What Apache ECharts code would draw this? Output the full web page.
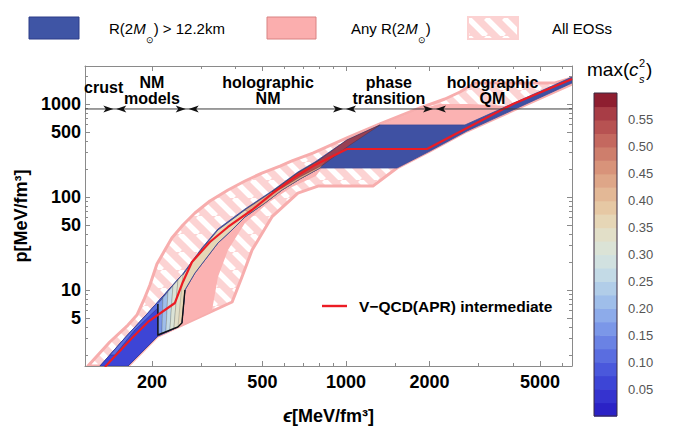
<!DOCTYPE html>
<html>
<head>
<meta charset="utf-8">
<script src="https://cdn.jsdelivr.net/npm/echarts@6.0.0/dist/echarts.min.js"></script>
<style>
html,body{margin:0;padding:0;background:#ffffff;}
#chart{width:680px;height:433px;}
</style>
</head>
<body>
<div id="chart"></div>
<script>
// ---------------- data ----------------
const xRange = [114.8, 6522];           // energy density axis range, MeV/fm^3
const yRange = [1.523, 2562];           // pressure axis range, MeV/fm^3
const xTickLabels = [200, 500, 1000, 2000, 5000];
const xMinorTicks = [300, 400, 600, 700, 800, 900, 1500, 3000, 4000, 6000];
const yTickLabels = [5, 10, 50, 100, 500, 1000];
const yMinorTicks = [2, 3, 4, 6, 7, 8, 9, 20, 30, 40, 60, 70, 80, 90, 200, 300, 400, 600, 700, 800, 900, 2000];

// [epsilon, p] boundaries of the regions
const allEosRegion = [
  [117.6,1.52],[141,2.76],[164,4.2],[176.6,5.38],[187,7.81],[196.7,11.3],[208.5,19],[222.8,26.9],
  [236,36.2],[258.7,50],[285.7,67.3],[323.6,90.6],[376,118.9],[432.7,148.6],[498,181],[578.5,215],
  [639,244],[760,297],[1008,431],[1326,610],[1848,906],[2273,1132],[2575,1346],[2916,1682],
  [5663,1682],[6522,1904],[6522,1641],[2729,512],[2008,312],[1527,205],[1251,131],[793,131],
  [671,110],[541,61],[459,26.9],[422,13.8],[389,7.43],[210,3.2],[164,1.52]
];
const anyRadiusRegion = [
  [210.2,3.2],[329,5.95],[345.8,13.8],[375.9,26.9],[432.7,52.5],[523.7,86.2],[638.8,128.1],
  [779.7,168.2],[819.5,205],[1565,215.4],[2729,538.6],[3834,951.7],[2798,1000],[2181,1000],
  [1848,883.6],[1326,594.8],[1008,405],[773.2,234],[671.4,183],[541.4,114],[432.7,73],
  [345.8,44.5],[302.8,28],[256.5,14.3],[222.8,9.0],[210.2,6.6]
];
const radiusAbove122Region = [
  [129.9,1.52],[159.8,3.05],[193.5,5.66],[222.8,9.06],[256.5,14.5],[302.8,28.3],[345.8,45.3],
  [432.7,74.3],[541.4,116],[671.4,185.7],[773.2,237.9],[1008,410.2],[1326,594.8],[2684,594.8],
  [6522,1951],[6522,1682],[2729,512.5],[2008,312.4],[1527,205],[806,205],[682.6,156.2],
  [588.2,118.9],[510.9,86.2],[432.7,61],[388.6,44.2],[345.8,32],[310.4,21],[285.7,15.2],
  [263,10],[256.5,4.42],[248.2,4.0],[210.2,3.2],[163.9,1.52]
];
// c_s^2-coloured sub-regions
const cs2Wedge = [[129.9,1.52],[159.8,3.05],[193.5,5.66],[222.8,9.06],[256.5,14.5],[263,10],[256.5,4.42],[248.2,4.0],[210.2,3.2],[163.9,1.52]];
const cs2WedgeInner = [[141.2,2.0],[159.8,3.05],[193.5,5.66],[222.8,9.06],[256.5,14.5],[256.5,10],[213.7,6.73],[173.7,3.71],[147.1,2.0]];
const cs2Band = [
  [210.2,3.28],[210.2,7.07],[222.8,8.84],[242.1,11.9],[256.5,14.1],[302.8,27.6],[345.8,44.2],
  [432.7,72.5],[541.4,113.2],[671.4,181.2],[773.2,232.1],[875.8,276],[806,205],[682.6,156.2],
  [588.2,118.9],[510.9,86.2],[432.7,61],[388.6,44.2],[345.8,32],[310.4,21],[285.7,15.2],
  [263,10],[256.5,4.42],[248.2,4.0]
];
const cs2BandMid = [[432.7,72.5],[541.4,113.2],[671.4,181.2],[773.2,232.1],[875.8,276],[806,205],[682.6,156.2],[588.2,118.9],[510.9,86.2],[451,67.3]];
const cs2BandTop = [[541.4,113.2],[671.4,181.2],[773.2,232.1],[1008,410.2],[1326,594.8],[1034,362.4],[826.3,220.9],[682.6,164.1],[588.2,125]];
const cs2FanBottom = [[210.2,3.28],[217.3,3.45],[224.6,3.53],[232.2,3.71],[240.1,3.90],[248.2,4.00]];
const cs2FanTop = [[210.2,7.07],[219.1,8.20],[228.4,9.52],[238.1,11.04],[248.2,12.8],[258.7,14.9]];
const cs2FanValues = [0.16, 0.21, 0.26, 0.31, 0.34];
const cs2RegionValues = {wedge: 0.06, wedgeInner: 0.11, band: 0.36, bandMid: 0.44, bandTop: 0.56};
const cs2Outline = [[210.2,7.07],[210.2,3.28],[248.2,4.0],[256.5,4.42],[263,10]];

// V-QCD(APR) intermediate
const vqcdCurve = [
  [135.4,1.49],[169.5,3.05],[193.5,4.53],[242,7.25],[258.6,12.2],[278.8,20],[323.6,32.8],
  [375.8,47.6],[458.5,72.5],[541,108],[655,164],[760.6,215],[1009,328],[1959,328],
  [2730,552],[4000,1000],[6526,1856]
];

// region annotations
const regionLineP = 884;
const regionBounds = [147, 268, 988, 2084];
const regionLabels = ['crust', 'NM\nmodels', 'holographic\nNM', 'phase\ntransition', 'holographic\nQM'];
const regionLabelEps = [134, 200, 524, 1428, 3373];

// colour bar for max(c_s^2)
const cs2Step = 0.025;
const cs2Colors = ['#2b22c6','#3533cf','#3d45d6','#4a58dc','#5a6de0','#6a82e4','#7b97e8','#8dabea',
  '#9fbeea','#b1cde8','#c3dae6','#d1e1e0','#dbe3d6','#e2dfc8','#e6d6b6','#e6c8a4','#e3b896',
  '#dea688','#d8937a','#ce7e6c','#c4685f','#b75252','#a83d46','#8e1e30'];
const cs2Ticks = [0.05,0.10,0.15,0.20,0.25,0.30,0.35,0.40,0.45,0.50,0.55];

// ---------------- chart ----------------
const F = '"Liberation Sans", Arial, Helvetica, sans-serif';
const lg = Math.log10;
const xMin = lg(xRange[0]), xMax = lg(xRange[1]), yMin = lg(yRange[0]), yMax = lg(yRange[1]);
const frame = '#8a8a8a';
const cs2Color = v => cs2Colors[Math.min(cs2Colors.length - 1, Math.floor(v / cs2Step))];

function hatchCanvas() {
  const s = 18, c = document.createElement('canvas');
  c.width = s; c.height = s;
  const g = c.getContext('2d');
  g.fillStyle = '#fcd3d3'; g.fillRect(0, 0, s, s);
  g.strokeStyle = '#ffffff'; g.lineWidth = 5.5;
  for (const o of [-s, 0, s]) { g.beginPath(); g.moveTo(o, 0); g.lineTo(o + s, s); g.stroke(); }
  return c;
}
const hatch = {image: hatchCanvas(), repeat: 'repeat', imageWidth: 18, imageHeight: 18};

const toPx = (api, arr) => arr.map(([e, p]) => api.coord([lg(e), lg(p)]));
function polySeries(arr, style, z) {
  return {type: 'custom', xAxisIndex: 0, yAxisIndex: 0, z, silent: true, clip: true,
    data: [[lg(300), lg(10)]],
    renderItem: (params, api) => ({type: 'polygon', shape: {points: toPx(api, arr)}, style})};
}

function mkX(position, ticks, len, showLine, showLabel) {
  return {gridIndex: 0, type: 'value', position, min: xMin, max: xMax,
    axisLine: {show: showLine, onZero: false, lineStyle: {color: frame, width: 1}},
    axisTick: {show: true, inside: true, length: len, customValues: ticks.map(lg), lineStyle: {color: frame, width: 1}},
    axisLabel: showLabel ? {show: true, customValues: ticks.map(lg),
      formatter: v => String(Math.round(Math.pow(10, v))), color: '#000', fontFamily: F,
      fontWeight: 'bold', fontSize: 18, margin: 7} : {show: false},
    splitLine: {show: false}};
}
function mkY(position, ticks, len, showLine, showLabel) {
  return {gridIndex: 0, type: 'value', position, min: yMin, max: yMax,
    axisLine: {show: showLine, onZero: false, lineStyle: {color: frame, width: 1}},
    axisTick: {show: true, inside: true, length: len, customValues: ticks.map(lg), lineStyle: {color: frame, width: 1}},
    axisLabel: showLabel ? {show: true, customValues: ticks.map(lg),
      formatter: v => String(Math.round(Math.pow(10, v))), color: '#000', fontFamily: F,
      fontWeight: 'bold', fontSize: 18, margin: 4} : {show: false},
    splitLine: {show: false}};
}

const xAxes = [
  Object.assign(mkX('bottom', xTickLabels, 5, true, true), {
    name: '{e|ϵ}[MeV/fm³]', nameLocation: 'middle', nameGap: 40,
    nameTextStyle: {color: '#000', fontFamily: F, fontWeight: 'bold', fontSize: 18,
      rich: {e: {fontFamily: F, fontWeight: 'bold', fontStyle: 'italic', fontSize: 19, color: '#000'}}}}),
  mkX('bottom', xMinorTicks, 3, false, false),
  mkX('top', xTickLabels, 5, true, false),
  mkX('top', xMinorTicks, 3, false, false),
  {gridIndex: 1, type: 'value', min: 0, max: 1, show: false}
];
const yAxes = [
  Object.assign(mkY('left', yTickLabels, 5, true, true), {
    name: 'p[MeV/fm³]', nameLocation: 'middle', nameGap: 52, nameRotate: 90,
    nameTextStyle: {color: '#000', fontFamily: F, fontWeight: 'bold', fontSize: 18}}),
  mkY('left', yMinorTicks, 3, false, false),
  mkY('right', yTickLabels, 5, true, false),
  mkY('right', yMinorTicks, 3, false, false),
  {gridIndex: 1, type: 'value', min: 0, max: 0.6, position: 'right',
    axisLine: {show: false}, splitLine: {show: false},
    axisTick: {show: true, inside: false, length: 6, customValues: cs2Ticks, lineStyle: {color: '#555'}},
    axisLabel: {show: true, customValues: cs2Ticks, formatter: v => v.toFixed(2), color: '#555',
      fontFamily: F, fontSize: 13, margin: 11}}
];

const series = [
  polySeries(allEosRegion, {fill: hatch, stroke: '#f7adad', lineWidth: 3, lineJoin: 'round'}, 1),
  polySeries(anyRadiusRegion, {fill: '#fbb2b2', stroke: 'none'}, 2),
  polySeries(radiusAbove122Region, {fill: '#3f51a3', stroke: '#3a4a98', lineWidth: 0.8}, 3),
  polySeries(cs2Wedge, {fill: cs2Color(cs2RegionValues.wedge), stroke: '#2a2f80', lineWidth: 0.5}, 4),
  polySeries(cs2WedgeInner, {fill: cs2Color(cs2RegionValues.wedgeInner), stroke: '#2a2f80', lineWidth: 0.5}, 5),
  polySeries(cs2Band, {fill: cs2Color(cs2RegionValues.band), stroke: '#34408c', lineWidth: 0.8}, 5),
  polySeries(cs2BandMid, {fill: cs2Color(cs2RegionValues.bandMid), stroke: 'rgba(60,40,40,0.6)', lineWidth: 0.5, opacity: 0.85}, 6),
  polySeries(cs2BandTop, {fill: cs2Color(cs2RegionValues.bandTop), stroke: 'rgba(60,30,30,0.7)', lineWidth: 0.5, opacity: 0.85}, 7),
  {type: 'custom', xAxisIndex: 0, yAxisIndex: 0, z: 6, silent: true, clip: true,
    data: cs2FanValues.map((v, i) => [lg(300), lg(10), i]),
    renderItem: (params, api) => {
      const i = api.value(2);
      const pts = toPx(api, [cs2FanBottom[i], cs2FanBottom[i + 1], cs2FanTop[i + 1], cs2FanTop[i]]);
      return {type: 'polygon', shape: {points: pts},
        style: {fill: cs2Color(cs2FanValues[i]), stroke: 'rgba(40,50,60,0.5)', lineWidth: 0.4}};
    }},
  {type: 'custom', xAxisIndex: 0, yAxisIndex: 0, z: 8, silent: true, clip: true,
    data: [[lg(300), lg(10)]],
    renderItem: (params, api) => ({type: 'polyline', shape: {points: toPx(api, cs2Outline)},
      style: {stroke: '#111', lineWidth: 1.4, fill: 'none'}})},
  {type: 'line', xAxisIndex: 0, yAxisIndex: 0, z: 10, silent: true, clip: true,
    symbol: 'none', data: vqcdCurve.map(([e, p]) => [lg(e), lg(p)]),
    lineStyle: {color: '#ec1c24', width: 2.2}},
  {type: 'custom', xAxisIndex: 0, yAxisIndex: 0, z: 11, silent: true, clip: false,
    data: [[lg(300), lg(10)]],
    renderItem: (params, api) => {
      const yL = api.coord([xMin, lg(regionLineP)])[1];
      const x0 = api.coord([xMin, 0])[0], x1 = api.coord([xMax, 0])[0];
      const kids = [{type: 'line', shape: {x1: x0, y1: yL, x2: x1, y2: yL}, style: {stroke: '#3c3c3c', lineWidth: 1}}];
      regionBounds.forEach(b => {
        const bx = api.coord([lg(b), 0])[0];
        const r = bx - 1.5, l = bx + 1.5;
        kids.push({type: 'polygon', shape: {points: [[r, yL], [r - 10, yL - 3.6], [r - 7.5, yL], [r - 10, yL + 3.6]]}, style: {fill: '#111'}});
        kids.push({type: 'polygon', shape: {points: [[l, yL], [l + 10, yL - 3.6], [l + 7.5, yL], [l + 10, yL + 3.6]]}, style: {fill: '#111'}});
      });
      regionLabels.forEach((t, i) => {
        const lx = api.coord([lg(regionLabelEps[i]), 0])[0];
        const two = t.indexOf('\n') >= 0;
        kids.push({type: 'text', style: {text: t, x: lx, y: yL - (two ? 18.5 : 21.5), align: 'center',
          verticalAlign: 'middle', lineHeight: 16.5, fill: '#000', font: 'bold 16px ' + F}});
      });
      return {type: 'group', children: kids};
    }},
  // colour bar
  {type: 'custom', xAxisIndex: 4, yAxisIndex: 4, silent: true, clip: false,
    data: cs2Colors.map((c, i) => [0.5, i]),
    renderItem: (params, api) => {
      const i = api.value(1), lo = i * cs2Step, hi = lo + cs2Step;
      const a = api.coord([0, hi]), b = api.coord([1, lo]);
      return {type: 'rect', shape: {x: a[0], y: a[1], width: b[0] - a[0], height: b[1] - a[1] + 0.6},
        style: {fill: cs2Colors[i]}};
    }},
  {type: 'custom', xAxisIndex: 4, yAxisIndex: 4, silent: true, clip: false, z: 3,
    data: [[0.5, 0]],
    renderItem: (params, api) => {
      const a = api.coord([0, cs2Colors.length * cs2Step]), b = api.coord([1, 0]);
      return {type: 'rect', shape: {x: a[0], y: a[1], width: b[0] - a[0], height: b[1] - a[1]},
        style: {fill: 'none', stroke: '#3a2a40', lineWidth: 1}};
    }}
];

const legendRich = {
  n: {fontFamily: F, fontSize: 15, lineHeight: 32, verticalAlign: 'middle', fill: '#000'},
  i: {fontFamily: F, fontSize: 15, fontStyle: 'italic', lineHeight: 32, verticalAlign: 'middle', fill: '#000'},
  s: {fontFamily: F, fontSize: 9, lineHeight: 12, verticalAlign: 'bottom', fill: '#000'}
};

const graphic = [
  {type: 'rect', shape: {x: 29, y: 17, width: 50, height: 22}, style: {fill: '#3f55a5', stroke: '#2c3d88', lineWidth: 1}},
  {type: 'text', x: 109, y: 28, style: {text: '{n|R(2}{i|M}{s|⊙}{n|) > 12.2km}', rich: legendRich, verticalAlign: 'middle', align: 'left'}},
  {type: 'rect', shape: {x: 267, y: 17, width: 49, height: 22}, style: {fill: '#fbaeae', stroke: '#d98282', lineWidth: 1}},
  {type: 'text', x: 351, y: 28, style: {text: '{n|Any R(2}{i|M}{s|⊙}{n|)}', rich: legendRich, verticalAlign: 'middle', align: 'left'}},
  {type: 'rect', shape: {x: 468, y: 17, width: 50, height: 22}, style: {fill: hatch, stroke: '#fcd2d2', lineWidth: 2}},
  {type: 'text', x: 552, y: 28, style: {text: '{n|All EOSs}', rich: legendRich, verticalAlign: 'middle', align: 'left'}},
  // line legend
  {type: 'line', shape: {x1: 322, y1: 306, x2: 347, y2: 306}, style: {stroke: '#ec1c24', lineWidth: 2.4}},
  {type: 'text', x: 359, y: 306, style: {text: 'V−QCD(APR) intermediate', font: 'bold 15.5px ' + F, fill: '#000', verticalAlign: 'middle', align: 'left'}},
  // colour bar title max(c_s^2)
  {type: 'text', x: 587, y: 79, style: {text: 'max(', font: '19px ' + F, fill: '#000', verticalAlign: 'bottom', align: 'left'}},
  {type: 'text', x: 629, y: 79, style: {text: 'c', font: 'italic 19px ' + F, fill: '#000', verticalAlign: 'bottom', align: 'left'}},
  {type: 'text', x: 639, y: 68, style: {text: '2', font: '11px ' + F, fill: '#000', verticalAlign: 'bottom', align: 'left'}},
  {type: 'text', x: 639, y: 84, style: {text: 's', font: 'italic 11px ' + F, fill: '#000', verticalAlign: 'bottom', align: 'left'}},
  {type: 'text', x: 646, y: 79, style: {text: ')', font: '19px ' + F, fill: '#000', verticalAlign: 'bottom', align: 'left'}}
];

const chart = echarts.init(document.getElementById('chart'), null, {renderer: 'svg'});
chart.setOption({
  animation: false,
  backgroundColor: '#ffffff',
  grid: [
    {left: 85, top: 66, width: 487, height: 300, containLabel: false},
    {left: 594, top: 93, width: 23, height: 323, containLabel: false}
  ],
  xAxis: xAxes,
  yAxis: yAxes,
  series,
  graphic
});
</script>
</body>
</html>
